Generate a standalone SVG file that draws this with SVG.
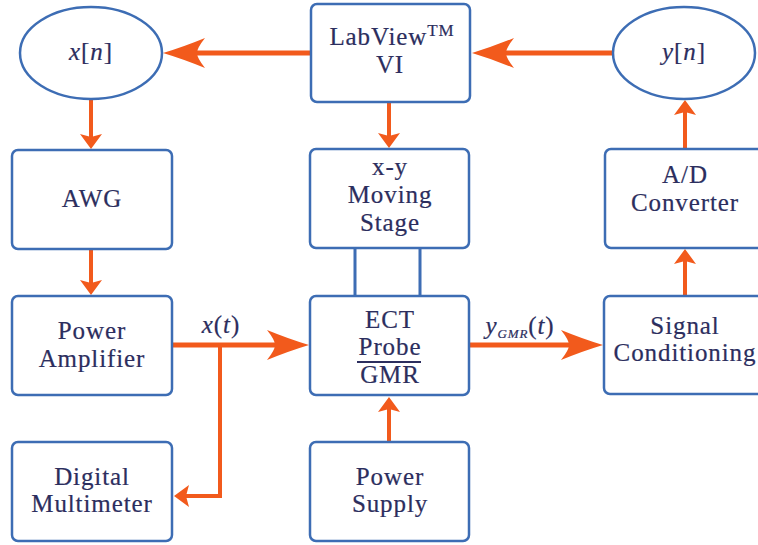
<svg xmlns="http://www.w3.org/2000/svg" width="758" height="545" viewBox="0 0 758 545">
<defs>
<style>
.box{fill:#fff;stroke:#3d6db4;stroke-width:2.5}
.t{font-family:'Liberation Serif','Times New Roman',serif;font-size:25px;fill:#2c2e5e;stroke:#2c2e5e;stroke-width:0.2px;text-anchor:middle;letter-spacing:0.9px}
.it{font-style:italic}
.w{fill:none;stroke:#f25a1c;stroke-width:5}
.n{fill:none;stroke:#f25a1c;stroke-width:4}
.bl{fill:none;stroke:#3d6db4;stroke-width:3}
</style>
<marker id="big" markerUnits="userSpaceOnUse" viewBox="0 -20 50 40" markerWidth="50" markerHeight="40" refX="12" refY="0" orient="auto">
<path d="M45,0 Q25,-6 3,-15 Q11,-5 11,0 Q11,5 3,15 Q25,6 45,0 Z" fill="#f25a1c"/>
</marker>
<marker id="sm" markerUnits="userSpaceOnUse" viewBox="0 -14 18 28" markerWidth="18" markerHeight="28" refX="3" refY="0" orient="auto">
<path d="M15,0 L0,-11 L3,0 L0,11 Z" fill="#f25a1c"/>
</marker>
</defs>
<rect width="758" height="545" fill="#fff"/>

<g id="connectors">
<path class="w" d="M311,53 H196" marker-end="url(#big)"/>
<path class="w" d="M613,53 H505" marker-end="url(#big)"/>
<path class="w" d="M172,345 H276" marker-end="url(#big)"/>
<path class="w" d="M469,345 H570" marker-end="url(#big)"/>
<path class="n" d="M91,99 V137" marker-end="url(#sm)"/>
<path class="n" d="M91,249 V283" marker-end="url(#sm)"/>
<path class="n" d="M389,102 V136" marker-end="url(#sm)"/>
<path class="n" d="M389,442 V409" marker-end="url(#sm)"/>
<path class="n" d="M685,296 V261" marker-end="url(#sm)"/>
<path class="n" d="M685,149 V112" marker-end="url(#sm)"/>
<path class="n" d="M220,345 V496 H186" marker-end="url(#sm)"/>
<path class="bl" d="M355,248 V296 M420,248 V296"/>
</g>

<g id="xn">
<ellipse class="box" cx="91" cy="53" rx="71" ry="46"/>
<text class="t" x="91" y="60"><tspan class="it">x</tspan>[<tspan class="it">n</tspan>]</text>
</g>
<g id="labview">
<rect class="box" x="311" y="4" width="159" height="98" rx="6"/>
<text class="t" x="392" y="45">LabView<tspan font-size="17" dy="-9">TM</tspan></text>
<text class="t" x="390" y="73">VI</text>
</g>
<g id="yn">
<ellipse class="box" cx="684" cy="53" rx="71" ry="46"/>
<text class="t" x="684" y="60"><tspan class="it">y</tspan>[<tspan class="it">n</tspan>]</text>
</g>
<g id="awg">
<rect class="box" x="12" y="150" width="160" height="99" rx="6"/>
<text class="t" x="92" y="207">AWG</text>
</g>
<g id="stage">
<rect class="box" x="310" y="149" width="159" height="99" rx="6"/>
<text class="t" x="390" y="175">x-y</text>
<text class="t" x="390" y="203">Moving</text>
<text class="t" x="390" y="231">Stage</text>
</g>
<g id="adc">
<rect class="box" x="605" y="149" width="165" height="99" rx="6"/>
<text class="t" x="685" y="183">A/D</text>
<text class="t" x="685" y="211">Converter</text>
</g>
<g id="amp">
<rect class="box" x="12" y="296" width="160" height="99" rx="6"/>
<text class="t" x="92" y="339">Power</text>
<text class="t" x="92" y="367">Amplifier</text>
</g>
<g id="ect">
<rect class="box" x="310" y="296" width="159" height="99" rx="6"/>
<text class="t" x="390" y="328">ECT</text>
<text class="t" x="390" y="355">Probe</text>
<line x1="357" y1="362" x2="421" y2="362" stroke="#2c2e5e" stroke-width="1.8"/>
<text class="t" x="390" y="383">GMR</text>
</g>
<g id="signal">
<rect class="box" x="604" y="296" width="166" height="98" rx="6"/>
<text class="t" x="685" y="334">Signal</text>
<text class="t" x="685" y="361">Conditioning</text>
</g>
<g id="dmm">
<rect class="box" x="12" y="442" width="160" height="99" rx="6"/>
<text class="t" x="92" y="485">Digital</text>
<text class="t" x="92" y="512">Multimeter</text>
</g>
<g id="psu">
<rect class="box" x="310" y="442" width="159" height="99" rx="6"/>
<text class="t" x="390" y="485">Power</text>
<text class="t" x="390" y="512">Supply</text>
</g>
<g id="labels">
<text class="t" x="221" y="333" font-size="23"><tspan class="it">x</tspan>(<tspan class="it">t</tspan>)</text>
<text class="t" x="520" y="334" font-size="23"><tspan class="it">y</tspan><tspan class="it" font-size="13" dy="4">GMR</tspan><tspan dy="-4">(</tspan><tspan class="it">t</tspan>)</text>
</g>
</svg>
